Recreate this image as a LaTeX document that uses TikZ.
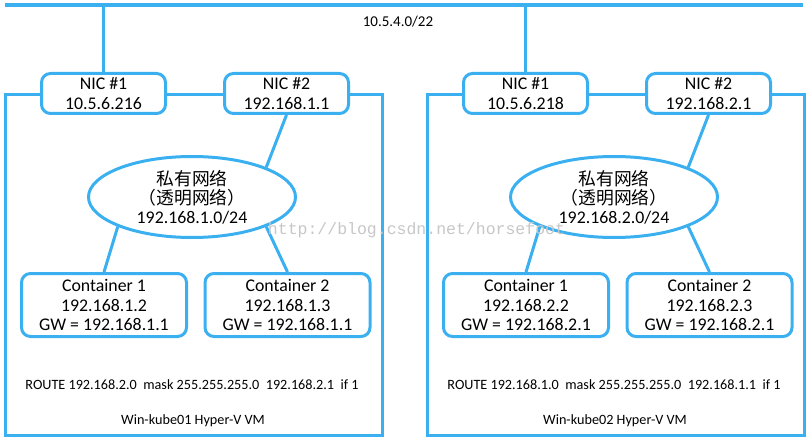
\documentclass[tikz,border=0pt]{standalone}
\usepackage{fontspec}
\setmainfont{Carlito}
\newfontfamily\cjk{Noto Sans CJK SC}
\newfontfamily\wmfont{Liberation Mono}
\usetikzlibrary{shapes.geometric}
\definecolor{netblue}{RGB}{59,176,240}
\tikzset{
  niclink/.style={draw=netblue, line width=3pt},
  nicbox/.style={draw=netblue, line width=3pt, fill=white, rounded corners=9pt, minimum width=124pt, minimum height=40pt, align=center, inner sep=0pt, font=\fontsize{17.8}{20.5}\selectfont},
  ctbox/.style={nicbox, minimum width=165pt, minimum height=63pt, font=\fontsize{17.8}{19.5}\selectfont},
  netcloud/.style={ellipse, draw=netblue, line width=3pt, fill=white, minimum width=207pt, minimum height=81pt, inner sep=0pt, align=center, font=\fontsize{17.8}{19}\selectfont},
  vmframe/.style={draw=netblue, line width=3pt, inner sep=0pt},
  vmlabel/.style={inner sep=0pt, font=\fontsize{14.2}{16}\selectfont}
}
\begin{document}
\begin{tikzpicture}[x=1pt,y=-1pt]
          \useasboundingbox (0,0) rectangle (810,438);

          \coordinate (busW) at (5,5);
          \coordinate (busE) at (803,5);
          \coordinate (tapL) at (103.5,5);
          \coordinate (tapR) at (525.5,5);
          \draw [netblue, line width=4pt] (busW) -- (busE); % Draws the bus
          \node [vmlabel, font=\fontsize{15}{17}\selectfont] (busip) at (398,22) {10.5.4.0/22};

          % left VM
          \node [vmframe, minimum width=377pt, minimum height=340pt] (vmL) at (193.5,265) {};
          \draw [niclink] (tapL) -- (103.5,72);
          \node [nicbox] (nic1L) at (103.5,93.5) {NIC \#1\\10.5.6.216};
          \node [nicbox] (nic2L) at (286.5,93.5) {NIC \#2\\192.168.1.1};
          \node [netcloud] (netL) at (192,197) {{\cjk 私有网络}\\{\cjk （透明网络）}\\192.168.1.0/24};
          \node [ctbox] (c1L) at (104,305) {Container 1\\192.168.1.2\\GW = 192.168.1.1};
          \node [ctbox] (c2L) at (287.5,305) {Container 2\\192.168.1.3\\GW = 192.168.1.1};
          \draw [niclink] (nic2L.south) -- (netL.north east);
          \draw [niclink] (netL.south west) -- (c1L.north);
          \draw [niclink] (netL.south east) -- (c2L.north);
          \node [vmlabel] (routeL) at (192,385) {ROUTE 192.168.2.0\ \ mask 255.255.255.0\ \ 192.168.2.1\ \ if 1};
          \node [vmlabel] (nameL) at (193,421) {Win-kube01 Hyper-V VM};

          % right VM
          \node [vmframe, minimum width=377pt, minimum height=340pt] (vmR) at (615.5,265) {};
          \draw [niclink] (tapR) -- (525.5,72);
          \node [nicbox] (nic1R) at (525.5,93.5) {NIC \#1\\10.5.6.218};
          \node [nicbox] (nic2R) at (708.5,93.5) {NIC \#2\\192.168.2.1};
          \node [netcloud] (netR) at (614,197) {{\cjk 私有网络}\\{\cjk （透明网络）}\\192.168.2.0/24};
          \node [ctbox] (c1R) at (526,305) {Container 1\\192.168.2.2\\GW = 192.168.2.1};
          \node [ctbox] (c2R) at (709.5,305) {Container 2\\192.168.2.3\\GW = 192.168.2.1};
          \draw [niclink] (nic2R.south) -- (netR.north east);
          \draw [niclink] (netR.south west) -- (c1R.north);
          \draw [niclink] (netR.south east) -- (c2R.north);
          \node [vmlabel] (routeR) at (614,385) {ROUTE 192.168.1.0\ \ mask 255.255.255.0\ \ 192.168.1.1\ \ if 1};
          \node [vmlabel] (nameR) at (615,421) {Win-kube02 Hyper-V VM};

          \node [text=black!22, inner sep=0pt, font=\wmfont\fontsize{16.5}{18}\selectfont] (wm) at (416.5,230) {http://blog.csdn.net/horsefoot};
\end{tikzpicture}
\end{document}
